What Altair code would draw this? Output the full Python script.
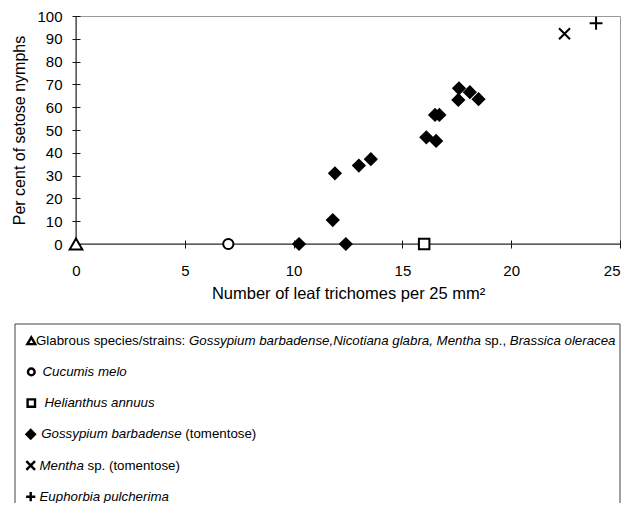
import altair as alt
import pandas as pd

# ---------------- data ----------------
species = ["glabrous", "cucumis", "helianthus", "gossypium", "mentha", "euphorbia"]

glabrous_x = [0.0]
glabrous_y = [0.0]
cucumis_x = [7.0]
cucumis_y = [0.0]
helianthus_x = [16.0]
helianthus_y = [0.0]
gossypium_x = [10.25, 12.4, 11.8, 11.9, 13.0, 13.55, 16.1, 16.55, 16.5, 16.7, 17.6, 17.57, 18.1, 18.5]
gossypium_y = [0.0, 0.0, 10.5, 31.0, 34.4, 37.2, 46.8, 45.2, 56.6, 56.6, 68.3, 63.2, 66.6, 63.5]
mentha_x = [22.45]
mentha_y = [92.2]
euphorbia_x = [23.9]
euphorbia_y = [96.8]

x_ticks = [0, 5, 10, 15, 20, 25]
y_ticks = [0, 10, 20, 30, 40, 50, 60, 70, 80, 90, 100]

x_title = "Number of leaf trichomes per 25 mm\u00b2"
y_title = "Per cent of setose nymphs"

# legend rows: list of (text, italic) segments
legend_rows = [
    [("Glabrous species/strains: ", False),
     ("Gossypium barbadense,Nicotiana glabra, Mentha", True),
     (" sp., ", False),
     ("Brassica oleracea", True)],
    [("Cucumis melo", True)],
    [("Helianthus annuus", True)],
    [("Gossypium barbadense", True), (" (tomentose)", False)],
    [("Mentha", True), (" sp. (tomentose)", False)],
    [("Euphorbia pulcherima", True)],
]

# ---------------- styles / layout ----------------
FONT = "Liberation Sans"
shape_range = ["triangle-up", "circle", "square", "diamond",
               "M-1,-1L1,1M1,-1L-1,1", "M-1,0L1,0M0,-1L0,1"]
fill_range = ["white", "white", "white", "black", "transparent", "transparent"]
size_range = [160, 105, 110, 130, 121, 165]
legend_size_range = [62, 45, 55, 72, 75, 85]

W, H = 544, 228                      # plot area
PAD = {"left": 68, "top": 8, "right": 1, "bottom": 259}   # svg = 613 x 495

# legend geometry, in pixels relative to the plot origin
BOX_LEFT, BOX_RIGHT, BOX_TOP, BOX_BOTTOM = -61, 544, 308, 700
ROW0, ROW_STEP = 324.7, 31.2
LEG_FS = 13.3
glyph_px = [-44.7, -44.7, -44.7, -45.3, -45.3, -45.3]
text_px = [-40, -33.5, -31.5, -34.8, -36.5, -36.5]

# Arial / Liberation Sans advance widths (per 1000 em)
AW = {' ': 278, ',': 278, '.': 278, '/': 278, ':': 278, '(': 333, ')': 333,
      'A': 667, 'B': 667, 'C': 722, 'E': 667, 'G': 778, 'H': 722, 'M': 833, 'N': 722,
      'a': 556, 'b': 556, 'c': 500, 'd': 556, 'e': 556, 'f': 278, 'g': 556, 'h': 556,
      'i': 222, 'j': 222, 'k': 500, 'l': 222, 'm': 833, 'n': 556, 'o': 556, 'p': 556,
      'q': 556, 'r': 333, 's': 500, 't': 278, 'u': 556, 'v': 500, 'w': 722, 'x': 500,
      'y': 500, 'z': 500}


def text_width(s, fs):
    return sum(AW.get(c, 556) for c in s) / 1000.0 * fs


# ---------------- tables ----------------
pts = []
for key, xs, ys in [("glabrous", glabrous_x, glabrous_y),
                    ("cucumis", cucumis_x, cucumis_y),
                    ("helianthus", helianthus_x, helianthus_y),
                    ("gossypium", gossypium_x, gossypium_y),
                    ("mentha", mentha_x, mentha_y),
                    ("euphorbia", euphorbia_x, euphorbia_y)]:
    for xv, yv in zip(xs, ys):
        pts.append({"species": key, "x": xv, "y": yv,
                    "msize": size_range[species.index(key)]})
pts_df = pd.DataFrame(pts)

glyph_df = pd.DataFrame([{"px": glyph_px[i], "py": ROW0 + ROW_STEP * i, "species": species[i],
                          "gsize": legend_size_range[i]}
                         for i in range(len(species))])
seg_rows = []
for i, segs in enumerate(legend_rows):
    cur = text_px[i]
    for txt, ital in segs:
        stripped = txt.lstrip(" ")
        lead = len(txt) - len(stripped)
        seg_rows.append({"px": cur + text_width(" " * lead, LEG_FS), "py": ROW0 + ROW_STEP * i,
                         "text": stripped.rstrip(" "), "italic": ital})
        cur += text_width(txt, LEG_FS)
seg_df = pd.DataFrame(seg_rows)

# ---------------- encodings ----------------
shape_enc = alt.Shape("species:N", scale=alt.Scale(domain=species, range=shape_range), legend=None)
fill_enc = alt.Fill("species:N", scale=alt.Scale(domain=species, range=fill_range), legend=None)

xscale = alt.Scale(domain=[0, 25], nice=False, zero=False)
yscale = alt.Scale(domain=[0, 100], nice=False, zero=False)

x_axis = alt.Axis(values=x_ticks, title=x_title, grid=False, domain=False,
                  offset=-4, tickSize=8, tickColor="#111", tickWidth=1,
                  labelFont=FONT, labelFontSize=15, labelColor="black", labelPadding=15,
                  labelAlign={"condition": {"test": "datum.value == 25", "value": "right"},
                              "value": "center"},
                  titleFont=FONT, titleFontSize=16.5, titleFontWeight="normal",
                  titleColor="black", titlePadding=7, labelFlush=False)
y_axis = alt.Axis(values=y_ticks, title=y_title, grid=False, domain=False,
                  offset=-4, tickSize=8, tickColor="#111", tickWidth=1,
                  labelFont=FONT, labelFontSize=15, labelColor="black", labelPadding=10,
                  titleFont=FONT, titleFontSize=16, titleFontWeight="normal",
                  titleColor="black", titlePadding=9, labelFlush=False)

one = pd.DataFrame({"x": [0.0], "y": [0.0]})

box = alt.Chart(one).mark_rect(fill="white", fillOpacity=0, stroke="#444", strokeWidth=1).encode(
    x=alt.value(BOX_LEFT), x2=alt.value(BOX_RIGHT), y=alt.value(BOX_TOP), y2=alt.value(BOX_BOTTOM))
vline = alt.Chart(one).mark_rule(color="#222", strokeWidth=1).encode(
    x=alt.X("x:Q", scale=xscale, axis=None))
hline = alt.Chart(one).mark_rule(color="#222", strokeWidth=1).encode(
    y=alt.Y("y:Q", scale=yscale, axis=None))
points = alt.Chart(pts_df).mark_point(opacity=1, strokeWidth=2, stroke="black").encode(
    x=alt.X("x:Q", scale=xscale, axis=x_axis),
    y=alt.Y("y:Q", scale=yscale, axis=y_axis),
    shape=shape_enc,
    fill=fill_enc,
    size=alt.Size("msize:Q", scale=None, legend=None),
)
glyphs = alt.Chart(glyph_df).mark_point(opacity=1, strokeWidth=2.4, stroke="black").encode(
    x=alt.X("px:Q", scale=None, axis=None),
    y=alt.Y("py:Q", scale=None, axis=None),
    shape=shape_enc,
    fill=fill_enc,
    size=alt.Size("gsize:Q", scale=None, legend=None),
)
reg_text = alt.Chart(seg_df).transform_filter("!datum.italic").mark_text(
    align="left", baseline="middle", font=FONT, fontSize=LEG_FS, color="black").encode(
    x=alt.X("px:Q", scale=None, axis=None),
    y=alt.Y("py:Q", scale=None, axis=None),
    text="text:N")
ital_text = alt.Chart(seg_df).transform_filter("datum.italic").mark_text(
    align="left", baseline="middle", font=FONT, fontSize=LEG_FS, fontStyle="italic",
    color="black").encode(
    x=alt.X("px:Q", scale=None, axis=None),
    y=alt.Y("py:Q", scale=None, axis=None),
    text="text:N")

chart = alt.layer(box, vline, hline, points, glyphs, reg_text, ital_text).resolve_scale(
    x="independent", y="independent"
).properties(
    width=W, height=H,
    autosize=alt.AutoSizeParams(type="none"),
    padding=PAD,
    view=alt.ViewBackground(stroke="#999", strokeWidth=1),
).configure(background="white")

chart.save("out.html", embed_options={"renderer": "svg", "actions": False})
